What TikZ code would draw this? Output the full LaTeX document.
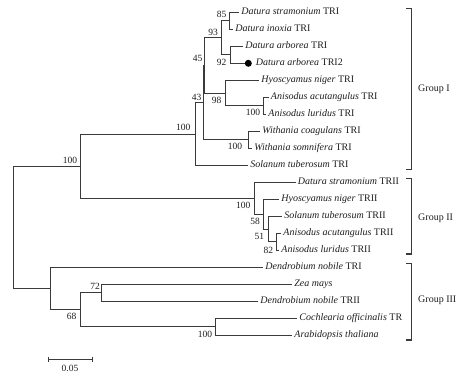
\documentclass[tikz,border=0pt]{standalone}
\usepackage{fontspec}
\setmainfont{Liberation Serif}
\usepackage{tikz}
\usetikzlibrary{arrows.meta,calc}
\definecolor{ln}{HTML}{3A3A3A}
\definecolor{tx}{HTML}{1E1E1E}

\begin{document}
\begin{tikzpicture}[x=1pt, y=-1pt,
    every node/.style={font=\fontsize{10}{12}\selectfont, text=tx},
    br/.style={line width=0.8pt, color=ln},
    brk/.style={line width=1.3pt, color=ln},
    leaf/.style={anchor=west, inner sep=2.2pt, text height=6.5pt, text depth=1.5pt},
    bs/.style={font=\fontsize{9.5}{11}\selectfont, inner sep=0pt},
    dot/.style={circle, fill=black, inner sep=0pt, minimum size=7pt},
    grp/.style={anchor=west, inner sep=1pt}
  ]
  \useasboundingbox (0,0) rectangle (468,374);

  % ---- feuilles, groupe I ----------------------------------------------
  \node[leaf] (dsA) at (239,12.3)  {\textit{Datura stramonium} TRI};
  \node[leaf] (diA) at (233,29.3)  {\textit{Datura inoxia} TRI};
  \node[leaf] (daA) at (243,46.3)  {\textit{Datura arborea} TRI};
  \node[dot]  (dot) at (248.3,63.3) {};
  \node[leaf] (daB) at (253.5,63.3) {\textit{Datura arborea} TRI2};
  \node[leaf] (hnA) at (259,80.3)  {\textit{Hyoscyamus niger} TRI};
  \node[leaf] (aaA) at (268.5,97.3) {\textit{Anisodus acutangulus} TRI};
  \node[leaf] (alA) at (266,114.3) {\textit{Anisodus luridus} TRI};
  \node[leaf] (wcA) at (260,131.3) {\textit{Withania coagulans} TRI};
  \node[leaf] (wsA) at (252,148.3) {\textit{Withania somnifera} TRI};
  \node[leaf] (stA) at (248,165.3) {\textit{Solanum tuberosum} TRI};

  % ---- feuilles, groupe II ---------------------------------------------
  \node[leaf] (dsB) at (295.5,182.3) {\textit{Datura stramonium} TRII};
  \node[leaf] (hnB) at (279,199.3) {\textit{Hyoscyamus niger} TRII};
  \node[leaf] (stB) at (282,216.3) {\textit{Solanum tuberosum} TRII};
  \node[leaf] (aaB) at (281,233.3) {\textit{Anisodus acutangulus} TRII};
  \node[leaf] (alB) at (279,250.3) {\textit{Anisodus luridus} TRII};

  % ---- feuilles, groupe III --------------------------------------------
  \node[leaf] (dnA) at (263,267.3) {\textit{Dendrobium nobile} TRI};
  \node[leaf] (zm)  at (292,284.3) {\textit{Zea mays}};
  \node[leaf] (dnB) at (258,301.3) {\textit{Dendrobium nobile} TRII};
  \node[leaf] (co)  at (297,318.3) {\textit{Cochlearia officinalis} TR};
  \node[leaf] (at)  at (292,335.3) {\textit{Arabidopsis thaliana}};

  % ---- noeuds internes -------------------------------------------------
  \coordinate (n85)  at (229.3,20.8);
  \coordinate (n92)  at (230,54.8);
  \coordinate (n93)  at (221.7,37.8);
  \coordinate (nan)  at (263.3,105.8);
  \coordinate (n98)  at (225,93.05);
  \coordinate (n45)  at (204,65.4);
  \coordinate (nwi)  at (248.3,139.8);
  \coordinate (n43)  at (203,102.6);
  \coordinate (ng1)  at (195.7,133.95);
  \coordinate (n82)  at (276.7,241.8);
  \coordinate (n51)  at (268.3,229.05);
  \coordinate (n58)  at (263.3,214.2);
  \coordinate (ng2)  at (254,198.25);
  \coordinate (nx)   at (80.7,166.1);
  \coordinate (n72)  at (101.7,292.8);
  \coordinate (nbr)  at (215,326.8);
  \coordinate (n68)  at (80,309.8);
  \coordinate (ng3)  at (50,288.55);
  \coordinate (root) at (13.3,227.3);

  % ---- branches (parent |- enfant) -------------------------------------
  \foreach \p/\c in {n85/dsA.west, n85/diA.west, n92/daA.west, n92/dot.west,
                     n93/n85, n93/n92, nan/aaA.west, nan/alA.west,
                     n98/hnA.west, n98/nan, n45/n93, n45/n98,
                     nwi/wcA.west, nwi/wsA.west, n43/n45, n43/nwi,
                     ng1/n43, ng1/stA.west}
    \draw[br] (\p) |- (\c);
  \foreach \p/\c in {n82/aaB.west, n82/alB.west, n51/stB.west, n51/n82,
                     n58/hnB.west, n58/n51, ng2/dsB.west, ng2/n58,
                     nx/ng1, nx/ng2}
    \draw[br] (\p) |- (\c);
  \foreach \p/\c in {n72/zm.west, n72/dnB.west, nbr/co.west, nbr/at.west,
                     n68/n72, n68/nbr, ng3/dnA.west, ng3/n68,
                     root/nx, root/ng3}
    \draw[br] (\p) |- (\c);

  % ---- valeurs de bootstrap --------------------------------------------
  \node[bs] (b85)  at (221.7,14.5)  {85};
  \node[bs] (b93)  at (213,32)      {93};
  \node[bs] (b92)  at (221.7,62)    {92};
  \node[bs] (b45)  at (197.7,58.3)  {45};
  \node[bs] (b98)  at (216.7,100.7) {98};
  \node[bs] (ban)  at (253,112)     {100};
  \node[bs] (b43)  at (196.7,97)    {43};
  \node[bs] (bwi)  at (235,146.7)   {100};
  \node[bs] (bg1)  at (183.3,127.7) {100};
  \node[bs] (bx)   at (70,160)      {100};
  \node[bs] (bg2)  at (243.3,205)   {100};
  \node[bs] (b58)  at (255,221.7)   {58};
  \node[bs] (b51)  at (259.3,236.7) {51};
  \node[bs] (b82)  at (268.3,250)   {82};
  \node[bs] (b72)  at (95,286)      {72};
  \node[bs] (b68)  at (71.7,316.7)  {68};
  \node[bs] (bbr)  at (205,334.3)   {100};

  % ---- echelle ---------------------------------------------------------
  \coordinate (sbl) at (48.3,359);
  \coordinate (sbr) at (92.7,359);
  \draw[br, {Bar[width=5pt]}-{Bar[width=5pt]}] (sbl) -- (sbr);
  \node[bs] (sbt) at (70,368) {0.05};

  % ---- accolades des groupes -------------------------------------------
  \coordinate (g1t) at (406,8.3);   \coordinate (g1b) at (406,169.3);
  \coordinate (g2t) at (406,178.3); \coordinate (g2b) at (406,254);
  \coordinate (g3t) at (406,263.3); \coordinate (g3b) at (406,340);
  \draw[brk] (g1t) -- ++(5.7,0) |- (g1b);
  \draw[brk] (g2t) -- ++(5.7,0) |- (g2b);
  \draw[brk] (g3t) -- ++(5.7,0) |- (g3b);
  \node[grp] (gI)   at (417,89)  {Group I};
  \node[grp] (gII)  at (417,218) {Group II};
  \node[grp] (gIII) at (417,300) {Group III};

\end{tikzpicture}
\end{document}
